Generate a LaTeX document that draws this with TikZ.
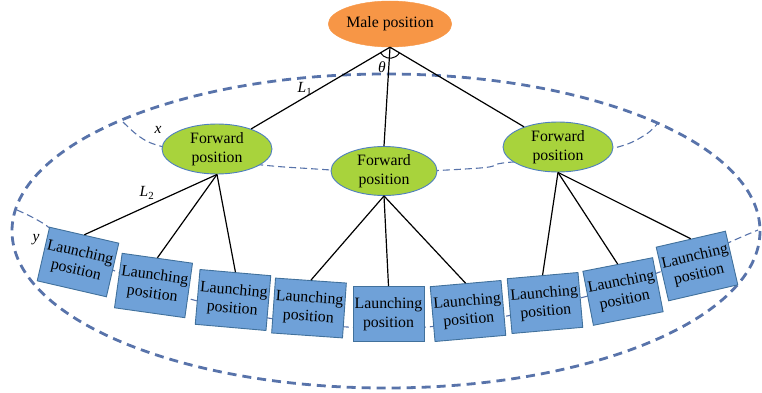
\documentclass[tikz,border=0pt]{standalone}
\usepackage{fontspec}
\setmainfont{Liberation Serif}
\usetikzlibrary{shapes.geometric,calc}
\definecolor{dashblue}{HTML}{5873AA}
\definecolor{maleorange}{HTML}{F79646}
\definecolor{fwdgreen}{HTML}{A8D33C}
\definecolor{fwdborder}{HTML}{4F7FBF}
\definecolor{boxfill}{HTML}{6FA1D8}
\definecolor{boxborder}{HTML}{41719C}
\tikzset{
  bigring/.style={draw=dashblue, line width=2.8pt, dash pattern=on 9pt off 6pt},
  thinring/.style={draw=dashblue, line width=1.1pt, dash pattern=on 7pt off 4pt},
  malenode/.style={ellipse, fill=maleorange, draw=maleorange, minimum width=113pt, minimum height=46pt, inner sep=0pt, font=\fontsize{15.8}{18}\selectfont},
  fwdnode/.style={ellipse, fill=fwdgreen, draw=fwdborder, line width=0.9pt, minimum width=110pt, minimum height=50pt, inner sep=0pt, align=center, font=\fontsize{15.8}{19}\selectfont},
  launchbox/.style={rectangle, fill=boxfill, draw=boxborder, line width=0.9pt, minimum width=71pt, minimum height=55pt, inner sep=0pt, align=center, font=\fontsize{15.8}{18.5}\selectfont},
  link/.style={draw=black, line width=1.2pt},
  lbl/.style={font=\fontsize{15.5}{18}\selectfont\itshape, inner sep=0pt}
}
\begin{document}
\begin{tikzpicture}[x=1pt, y=-1pt]
\useasboundingbox (0,0) rectangle (762,393);
% outer ring
\draw[bigring] (386,231) ellipse [x radius=374, y radius=157];
% inner rings
\draw[thinring] plot[smooth, tension=0.6] coordinates {(123,122) (140,137) (160,146) (217,160) (262,165) (300,168) (384,172) (480,168) (503,163) (558,158) (618,147) (645,135) (658,123)};
\draw[thinring] plot[smooth, tension=0.6] coordinates {(17,210) (47,226) (78,255) (115,271) (153,288) (190,299) (233,310) (268,318) (309,323) (347,327) (388,328) (427,327) (468,322) (507,316) (545,307) (580,298) (623,287) (657,273) (697,259) (728,243) (758,230)};
% nodes
\node[malenode] (male) at (390,24) {Male position};
\node[fwdnode] (f1) at (217,149) {Forward\\position};
\node[fwdnode, minimum width=106pt, minimum height=49pt] (f2) at (384,171) {Forward\\position};
\node[fwdnode] (f3) at (558,147) {Forward\\position};
\node[launchbox, rotate=-13] (b1) at (78,262) {Launching\\position};
\node[launchbox, rotate=-8] (b2) at (153.5,285.5) {Launching\\position};
\node[launchbox, rotate=-5] (b3) at (233,300) {Launching\\position};
\node[launchbox, rotate=-4] (b4) at (309,308) {Launching\\position};
\node[launchbox, rotate=0] (b5) at (388.5,314) {Launching\\position};
\node[launchbox, rotate=5] (b6) at (468,311) {Launching\\position};
\node[launchbox, rotate=5] (b7) at (545,303) {Launching\\position};
\node[launchbox, rotate=11] (b8) at (623,291.5) {Launching\\position};
\node[launchbox, rotate=13] (b9) at (697,266) {Launching\\position};
% links
\draw[link] (male.south) -- (f1);
\draw[link] (male.south) -- (f2.north);
\draw[link] (male.south) -- (f3);
\foreach \b in {b1,b2,b3} \draw[link] (f1.south) -- (\b.north);
\foreach \b in {b4,b5,b6} \draw[link] (f2.south) -- (\b.north);
\foreach \b in {b7,b8,b9} \draw[link] (f3.south) -- (\b.north);
% angle
\draw[line width=1pt] ($(male.south)+(211:11pt)$) arc[start angle=211, end angle=329, radius=11pt];
% labels
\node[lbl] (theta) at (382,67) {θ};
\node[lbl] (l1) at (305,89) {L\textsubscript{\upshape 1}};
\node[lbl] (l2) at (147,193) {L\textsubscript{\upshape 2}};
\node[lbl] (xl) at (158,130) {x};
\node[lbl] (yl) at (36,240) {y};
\end{tikzpicture}
\end{document}
